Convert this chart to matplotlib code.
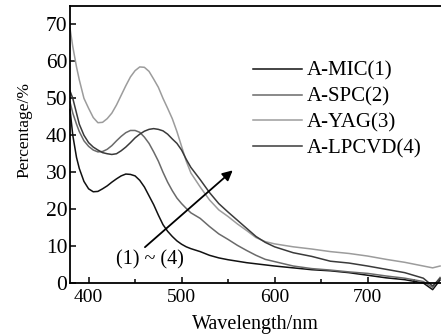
import numpy as np
import matplotlib
matplotlib.use("Agg")
import matplotlib.pyplot as plt

# ==========================================
# Data
# ==========================================
wavelength = [380, 383, 387, 390, 395, 400, 405, 410, 415, 420, 425, 430, 435, 440,
              445, 450, 455, 460, 465, 470, 475, 480, 485, 490, 495, 500, 505, 510,
              520, 530, 540, 550, 560, 570, 580, 590, 600, 620, 640, 660, 680, 700,
              720, 740, 760, 770, 778]

mic = [47, 40, 34, 31, 27.5, 25.5, 24.7, 24.8, 25.5, 26.3, 27.3, 28.2, 29, 29.5,
       29.4, 29, 27.8, 26, 23.6, 21.2, 18.4, 15.8, 14, 12.6, 11.4, 10.5, 9.8, 9.3,
       8.5, 7.5, 6.8, 6.3, 5.9, 5.5, 5.2, 4.9, 4.6, 4.1, 3.6, 3.3, 2.8, 2.1,
       1.4, 0.9, 0.0, -1.8, 0.8]

spc = [49, 46, 43, 41, 38.5, 37, 36, 35.5, 35.6, 36.2, 37.2, 38.5, 39.7, 40.7,
       41.3, 41.3, 40.8, 39.5, 37.8, 35.5, 33, 30, 27.3, 25, 23, 21.5, 20.2, 19,
       17.5, 15.3, 13.3, 11.8, 10.2, 8.8, 7.5, 6.4, 5.8, 4.6, 3.9, 3.5, 3.0, 2.6,
       1.9, 1.3, 0.4, -1.2, 1.5]

yag = [69, 64, 58.5, 55, 50, 47.3, 44.8, 43.4, 43.5, 44.5, 46, 48.2, 50.8, 53.4,
       55.8, 57.5, 58.5, 58.4, 57.3, 55.2, 53, 50, 47.3, 44.5, 41, 37, 33, 29.8,
       26, 22.5, 19.8, 18, 16, 14.2, 12.3, 11.2, 10.6, 9.8, 9.2, 8.5, 8.0, 7.3,
       6.4, 5.6, 4.6, 4.1, 4.6]

lpcvd = [52, 50, 46, 43, 40, 38, 36.8, 36, 35.3, 35, 34.8, 35, 35.8, 36.8,
         38, 39.3, 40.3, 41.1, 41.6, 41.8, 41.6, 41.2, 40.3, 39, 37.8, 36, 33.5, 31.3,
         28, 24.5, 21.5, 19.2, 17, 14.8, 12.6, 11, 9.8, 8.2, 7.2, 5.9, 5.4, 4.6,
         3.7, 2.8, 1.3, -0.8, 1.2]

series = [mic, spc, yag, lpcvd]
labels = ["A-MIC(1)", "A-SPC(2)", "A-YAG(3)", "A-LPCVD(4)"]
colors = ["#111111", "#6a6a6a", "#9c9c9c", "#3a3a3a"]

plt.rcParams.update({
    'font.family': 'Liberation Serif',
    'font.size': 14,
})

fig = plt.figure(figsize=(4.41, 3.36), dpi=100)
ax = fig.add_axes([70 / 441, 53 / 336, 371 / 441, 277 / 336])

for y, lab, c in zip(series, labels, colors):
    ax.plot(wavelength, y, color=c, lw=1.1, label=lab, clip_on=False)

ax.set_xlim(380, 779)
ax.set_ylim(0, 75)
ax.set_xticks([400, 500, 600, 700])
ax.set_xticks([450, 550, 650, 750], minor=True)
ax.set_yticks(range(0, 80, 10))
ax.tick_params(direction='in', length=4, width=1.1)
ax.tick_params(axis='x', labelsize=14, pad=4)
ax.tick_params(axis='y', labelsize=15.5, pad=2)
ax.tick_params(which='minor', direction='in', length=3, width=1.1)
for s in ['left', 'bottom', 'top']:
    ax.spines[s].set_linewidth(1.3)
ax.spines['right'].set_visible(False)

ax.set_xlabel('Wavelength/nm', fontsize=14.5, labelpad=7)
ax.set_ylabel('Percentage/%', fontsize=12.5, va='center')
ax.yaxis.set_label_coords(-0.124, 0.552)

# arrow showing trend (1) -> (4)
ax.annotate('', xy=(555, 30.5), xytext=(460.6, 9.7),
            arrowprops=dict(arrowstyle='-|>', lw=1.3, color='black', mutation_scale=15,
                            shrinkA=0, shrinkB=0))
ax.text(466, 6.2, '(1) ~ (4)', fontsize=14.5, ha='center', va='center')

ax.legend(loc='upper left', bbox_to_anchor=(0.493, 0.80), frameon=False, fontsize=15,
          handlelength=2.35, handletextpad=0.24, labelspacing=0.3,
          borderpad=0, borderaxespad=0)

plt.savefig('out.png', dpi=100)
plt.close()
